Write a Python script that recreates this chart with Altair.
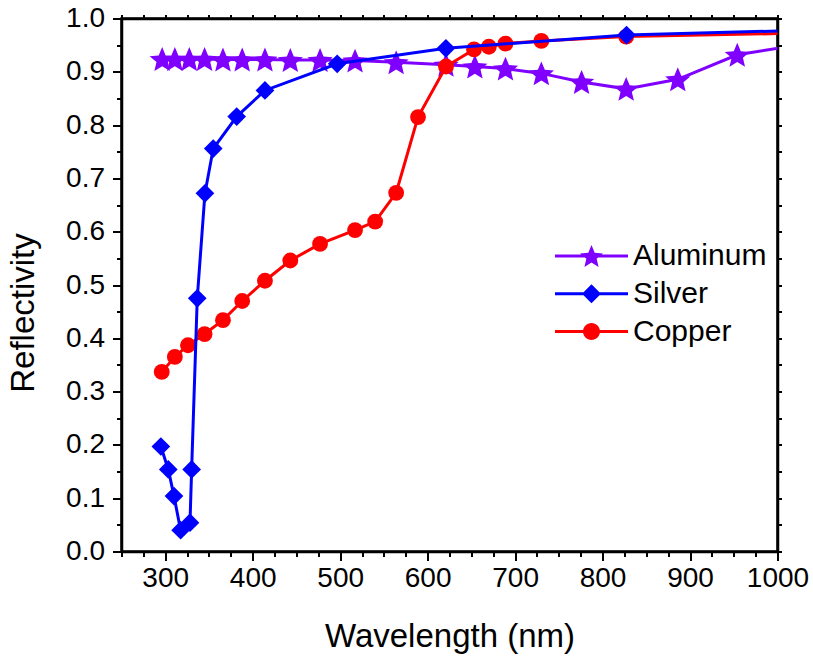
import altair as alt
import pandas as pd
import math

# ---------------- data ----------------
series = ["Aluminum", "Silver", "Copper"]
colors = ["#8000FF", "#0000FF", "#FF0000"]

al_wl = [296.5, 311, 327.5, 345, 366, 388, 414, 443, 477, 517, 564, 621, 654, 689, 730, 776, 827, 886, 954, 1030]
al_r = [0.924, 0.924, 0.924, 0.924, 0.923, 0.923, 0.923, 0.922, 0.922, 0.921, 0.918, 0.913, 0.910, 0.906, 0.897, 0.881, 0.868, 0.886, 0.932, 0.952]

ag_wl = [295, 303.5, 310, 317.6, 328.3, 330.2, 336.6, 345.4, 354.9, 381.7, 414, 496.6, 620.9, 827.4, 1100]
ag_r = [0.197, 0.154, 0.104, 0.040, 0.054, 0.154, 0.475, 0.672, 0.756, 0.816, 0.865, 0.915, 0.944, 0.969, 0.981]

cu_wl = [296, 311, 326, 345, 366, 388, 414, 443, 477, 517, 540, 564, 589, 621, 653, 670, 689, 730, 827, 1100]
cu_r = [0.337, 0.365, 0.387, 0.408, 0.434, 0.470, 0.508, 0.546, 0.577, 0.603, 0.619, 0.673, 0.815, 0.910, 0.942, 0.947, 0.953, 0.958, 0.966, 0.975]

x_ticks = list(range(250, 1001, 25))
y_ticks = [round(i * 0.05, 2) for i in range(21)]

rows = []
for name, wl, rr in [("Aluminum", al_wl, al_r), ("Silver", ag_wl, ag_r), ("Copper", cu_wl, cu_r)]:
    for w, v in zip(wl, rr):
        rows.append({"series": name, "wl": w, "r": v})
df = pd.DataFrame(rows)


# ---------------- shapes ----------------
def star_path(r, inner=0.45):
    pts = []
    for k in range(10):
        ang = math.radians(-90 + 36 * k)
        rad = r if k % 2 == 0 else r * inner
        pts.append((rad * math.cos(ang), rad * math.sin(ang) + 0.0955 * r))
    return "M" + "L".join(f"{x:.4f},{y:.4f}" for x, y in pts) + "Z"


def diamond_path(r):
    return f"M0,{-r}L{r},0L0,{r}L{-r},0Z"


def circle_path(r):
    return f"M{r},0A{r},{r} 0 1,1 {-r},0A{r},{r} 0 1,1 {r},0Z"


bar = "M-1,-0.041H1V0.041H-1Z "
legend_paths = [bar + star_path(0.33), bar + diamond_path(0.26), bar + circle_path(0.233)]

FONT = "Liberation Sans"
XS = alt.Scale(domain=[250, 1000], nice=False, zero=False)
YS = alt.Scale(domain=[0, 1], nice=False, zero=False)

x_axis = alt.Axis(
    title="Wavelength (nm)", values=x_ticks,
    labelExpr="datum.value % 100 === 0 ? format(datum.value, 'd') : ''",
    tickSize={"condition": {"test": "datum.value % 100 === 0", "value": 9}, "value": 5},
    labelOverlap=False, labelFlush=False, grid=False, labelPadding=4,
    labelFont=FONT, labelFontSize=28, labelColor="black",
    titleFont=FONT, titleFontSize=33, titleFontWeight="normal", titleColor="black",
    titleY=95, titleBaseline="alphabetic",
    domainColor="black", domainWidth=2.5, tickColor="black", tickWidth=2,
)
y_axis = alt.Axis(
    title="Reflectivity", values=y_ticks,
    labelExpr="round(datum.value*100) % 10 === 0 ? format(datum.value, '.1f') : ''",
    tickSize={"condition": {"test": "round(datum.value*100) % 10 === 0", "value": 9}, "value": 5},
    labelOverlap=False, labelFlush=False, grid=False, labelPadding=8,
    labelFont=FONT, labelFontSize=28, labelColor="black",
    titleFont=FONT, titleFontSize=33, titleFontWeight="normal", titleColor="black",
    titleX=-88, titleY=294, titleBaseline="alphabetic", titleAngle=270,
    domainColor="black", domainWidth=2.5, tickColor="black", tickWidth=2,
)
top_axis = alt.Axis(orient="top", values=x_ticks, labels=False, title=None, grid=False,
                    tickSize=4, tickColor="black", tickWidth=2, domainColor="black", domainWidth=2.5)
right_axis = alt.Axis(orient="right", values=y_ticks, labels=False, title=None, grid=False,
                      tickSize=4, tickColor="black", tickWidth=2, domainColor="black", domainWidth=2.5)

base = alt.Chart(df)

marker = {
    "Aluminum": (star_path(1.0), 700),
    "Silver": ("diamond", 350),
    "Copper": ("circle", 250),
}
draw_order = ["Aluminum", "Copper", "Silver"]

layers = []
first = True
for name in draw_order:
    col = colors[series.index(name)]
    shp, sz = marker[name]
    sub = base.transform_filter(alt.datum.series == name)
    line = sub.mark_line(color=col, strokeWidth=3, clip=True).encode(
        x=alt.X("wl:Q", scale=XS, axis=x_axis if first else None),
        y=alt.Y("r:Q", scale=YS, axis=y_axis if first else None),
    )
    first = False
    pts = sub.mark_point(filled=True, shape=shp, size=sz, color=col, opacity=1, clip=True).encode(
        x=alt.X("wl:Q", scale=XS, axis=None),
        y=alt.Y("r:Q", scale=YS, axis=None),
    )
    layers += [line, pts]

leg_props = dict(
    title=None, orient="none", legendX=433.5, legendY=222.5, padding=0,
    labelFont=FONT, labelFontSize=30, labelColor="black", labelOffset=5,
    symbolSize=5329, symbolStrokeWidth=0, symbolOpacity=1, clipHeight=30, rowPadding=7.8,
)
legend_layer = base.transform_filter("false").mark_point(filled=True, size=5329, opacity=1).encode(
    x=alt.X("wl:Q", scale=XS, axis=None),
    y=alt.Y("r:Q", scale=YS, axis=None),
    color=alt.Color("series:N", scale=alt.Scale(domain=series, range=colors), legend=alt.Legend(**leg_props)),
    shape=alt.Shape("series:N", scale=alt.Scale(domain=series, range=legend_paths), legend=alt.Legend(**leg_props)),
)

frame_axes = base.mark_line(opacity=0).encode(
    x=alt.X("wl:Q", scale=XS, axis=top_axis),
    y=alt.Y("r:Q", scale=YS, axis=right_axis),
    detail="series:N",
)

chart = alt.layer(*layers, legend_layer, frame_axes).resolve_scale(
    x="independent", y="independent", color="independent", shape="independent"
).properties(
    width=656, height=533,
    autosize=alt.AutoSizeParams(type="none"),
    padding={"left": 121.5, "top": 18.5, "right": 35.5, "bottom": 104.5},
    background="white",
).configure_view(stroke="black", strokeWidth=2.5)

chart.save("out.html", embed_options={"renderer": "svg", "actions": False})
